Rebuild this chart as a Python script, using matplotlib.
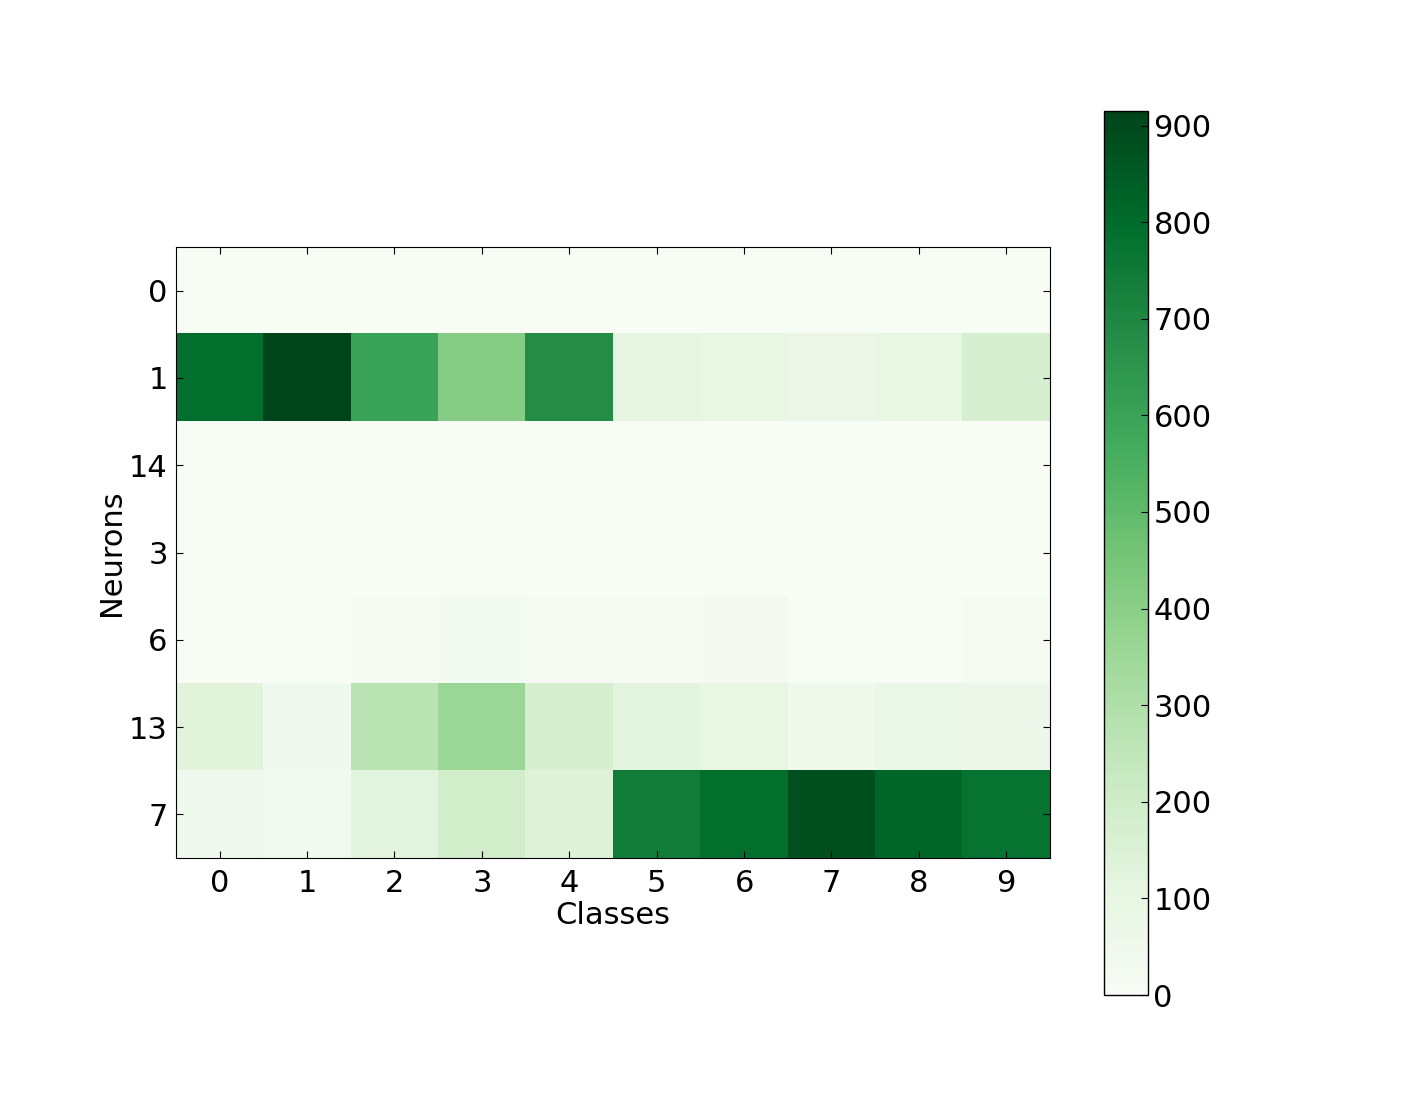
import numpy as np
import matplotlib
matplotlib.use("Agg")
import matplotlib.pyplot as plt

classes = ["0", "1", "2", "3", "4", "5", "6", "7", "8", "9"]
neurons = ["0", "1", "14", "3", "6", "13", "7"]

row_0 = [0, 0, 0, 0, 0, 0, 0, 0, 0, 0]
row_1 = [790, 915, 600, 410, 680, 110, 90, 70, 90, 170]
row_14 = [0, 0, 0, 0, 0, 0, 0, 0, 0, 0]
row_3 = [0, 0, 0, 0, 0, 0, 0, 0, 0, 0]
row_6 = [0, 0, 8, 25, 12, 10, 18, 0, 0, 8]
row_13 = [130, 40, 265, 360, 170, 120, 90, 50, 75, 60]
row_7 = [45, 35, 120, 190, 140, 740, 790, 880, 820, 775]

data = np.array([row_0, row_1, row_14, row_3, row_6, row_13, row_7])

plt.rcParams['font.size'] = 22
fig = plt.figure(figsize=(14.08, 11.05), dpi=100)
ax = fig.add_axes([0.125, 0.2235, 0.6207, 0.553])
im = ax.imshow(data, cmap="Greens", interpolation="nearest", aspect="auto",
               vmin=0, vmax=915)
ax.set_xticks(range(len(classes)))
ax.set_xticklabels(classes)
ax.set_yticks(range(len(neurons)))
ax.set_yticklabels(neurons)
ax.tick_params(direction="in", top=True, right=True, length=5, pad=8)
ax.tick_params(axis="y", pad=6)
ax.set_xlabel("Classes", labelpad=2)
ax.set_ylabel("Neurons", labelpad=2)

cax = fig.add_axes([0.784, 0.0995, 0.0313, 0.8])
cb = fig.colorbar(im, cax=cax)
cb.set_ticks(range(0, 901, 100))
cb.ax.tick_params(direction="in", length=5, pad=4)
cb.outline.set_linewidth(1)

fig.savefig("out.png", dpi=100)
